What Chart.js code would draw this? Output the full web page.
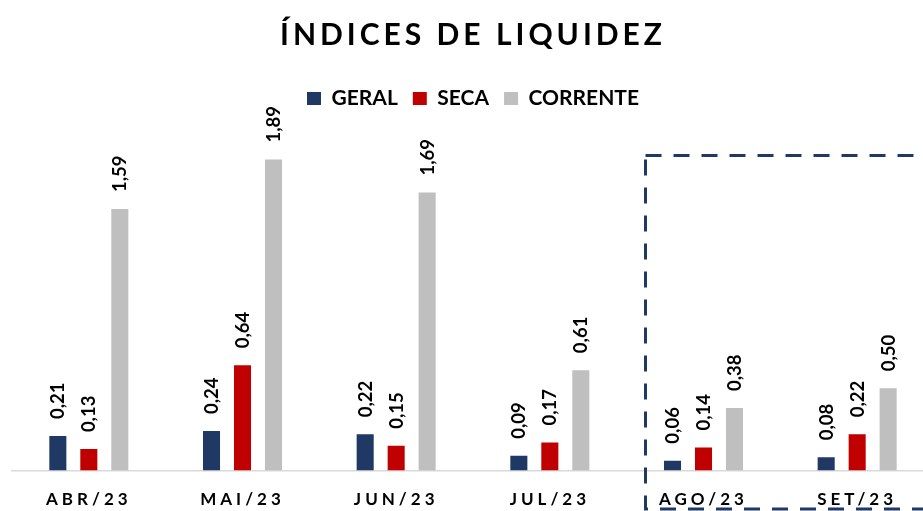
<!DOCTYPE html>
<html><head><meta charset="utf-8">
<script src="https://cdn.jsdelivr.net/npm/chart.js@4"></script>
<style>html,body{margin:0;padding:0;overflow:hidden;background:#fff}#wrap{width:946px;height:511px;position:relative}</style>
</head><body><div id="wrap"><canvas id="c"></canvas></div>
<script>
const categories = ['ABR/23','MAI/23','JUN/23','JUL/23','AGO/23','SET/23'];
const geral = [0.21, 0.24, 0.22, 0.09, 0.06, 0.08];
const seca = [0.13, 0.64, 0.15, 0.17, 0.14, 0.22];
const corrente = [1.59, 1.89, 1.69, 0.61, 0.38, 0.50];
const seriesNames = ['GERAL', 'SECA', 'CORRENTE'];
const seriesColors = ['#1F3864', '#C00000', '#BFBFBF'];
const highlightFrom = 4; // AGO/23 .. SET/23
const PX_PER_UNIT = 164.5;
const FONT = 'Lato';

const letterSpacingPlugin = {
  id: 'letterSpacing',
  beforeDraw(chart) {
    const ctx = chart.ctx;
    const wrap = (obj, fn, sp) => {
      if (!obj || obj['__w_' + fn]) return;
      const orig = obj[fn];
      obj[fn] = function (...a) { ctx.save(); ctx.letterSpacing = sp; orig.apply(this, a); ctx.restore(); };
      obj['__w_' + fn] = true;
    };
    wrap(chart.scales.x, 'drawLabels', '4px');
    wrap(chart.scales.x, 'draw', '4px');
    wrap(chart.titleBlock, 'draw', '4px');
  }
};

const fixedScalePlugin = {
  id: 'fixedScale',
  afterLayout(chart) {
    const y = chart.scales.y;
    y.min = 0;
    y.max = (y.bottom - y.top) / PX_PER_UNIT;
    y.configure();
  }
};

const valueLabels = {
  id: 'valueLabels',
  afterDatasetsDraw(chart) {
    const ctx = chart.ctx;
    ctx.save();
    ctx.font = 'bold 18.5px ' + FONT;
    ctx.fillStyle = '#000';
    ctx.textAlign = 'left';
    ctx.textBaseline = 'alphabetic';
    chart.data.datasets.forEach((ds, i) => {
      chart.getDatasetMeta(i).data.forEach((bar, j) => {
        const txt = ds.data[j].toFixed(2).replace('.', ',');
        ctx.save();
        ctx.translate(bar.x, bar.y - 17);
        ctx.rotate(-Math.PI / 2);
        ctx.fillText(txt, 0, 6.5);
        ctx.restore();
      });
    });
    ctx.restore();
  }
};

const highlightBox = {
  id: 'highlightBox',
  afterDraw(chart) {
    const x = chart.scales.x, y = chart.scales.y, ctx = chart.ctx;
    const half = (x.getPixelForValue(1) - x.getPixelForValue(0)) / 2;
    const left = x.getPixelForValue(highlightFrom) - 58;
    const right = x.getPixelForValue(categories.length - 1) + half - 2;
    const top = y.getPixelForValue(1.915);
    const bottom = chart.chartArea.bottom + 38.5;
    ctx.save();
    ctx.strokeStyle = '#1F3864';
    ctx.lineWidth = 3;
    ctx.setLineDash([16, 12]);
    ctx.strokeRect(left, top, right - left, bottom - top);
    ctx.restore();
  }
};

new Chart(document.getElementById('c'), {
  type: 'bar',
  data: {
    labels: categories,
    datasets: [
      { label: seriesNames[0], data: geral, backgroundColor: seriesColors[0] },
      { label: seriesNames[1], data: seca, backgroundColor: seriesColors[1] },
      { label: seriesNames[2], data: corrente, backgroundColor: seriesColors[2] }
    ]
  },
  options: {
    responsive: true,
    maintainAspectRatio: false,
    animation: false,
    events: [],
    categoryPercentage: 0.605,
    barPercentage: 0.55,
    layout: { padding: { left: 12, right: 12, top: 0, bottom: 0.5 } },
    plugins: {
      title: {
        display: true,
        text: 'ÍNDICES DE LIQUIDEZ',
        color: '#000',
        font: { family: FONT, size: 30, weight: 'bold' },
        padding: { top: 17, bottom: 20 }
      },
      legend: {
        display: true,
        labels: {
          color: '#000',
          font: { family: FONT, size: 21, weight: 'bold' },
          boxWidth: 14,
          boxHeight: 13,
          padding: 15
        }
      },
      tooltip: { enabled: false }
    },
    scales: {
      x: {
        offset: true,
        grid: { display: false, drawTicks: false },
        border: { display: true, color: '#D9D9D9', width: 1.5 },
        ticks: { color: '#000', font: { family: FONT, size: 17, weight: 'bold' }, padding: 19, maxRotation: 0 },
        afterFit(scale) { scale.height = 40; }
      },
      y: {
        display: false,
        beginAtZero: true,
        bounds: 'data'
      }
    }
  },
  plugins: [letterSpacingPlugin, fixedScalePlugin, valueLabels, highlightBox]
});
</script>
</body></html>
